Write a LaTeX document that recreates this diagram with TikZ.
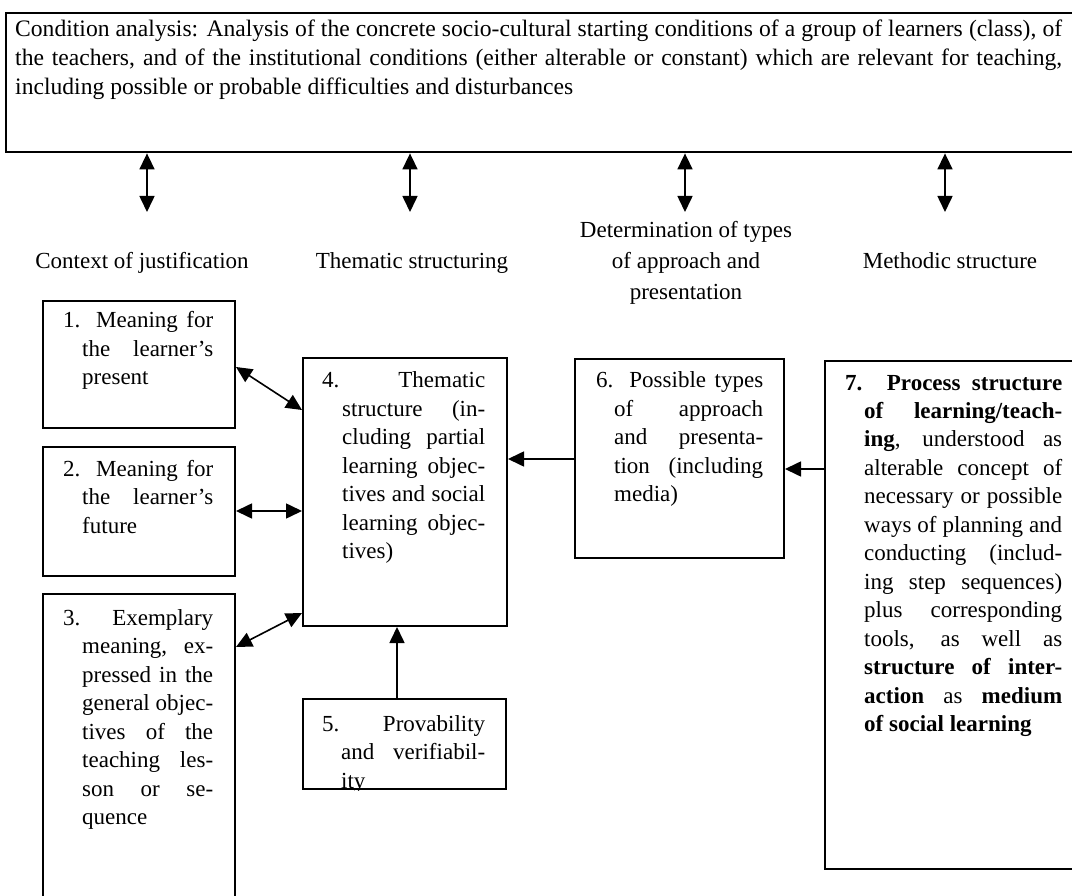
\documentclass[tikz,border=0pt]{standalone}
\usepackage{fontspec}
\setmainfont{Liberation Serif}
\usetikzlibrary{arrows.meta,calc}

% a justified line of fixed width
\newcommand\jst[2]{\makebox[#1][s]{#2}}

\tikzset{
  boxframe/.style={draw, line width=2pt, inner sep=0pt, anchor=north west},
  para/.style={inner sep=0pt, anchor=base west, font=\fontsize{23}{28.5}\selectfont},
  lab/.style={inner sep=0pt, anchor=base, font=\fontsize{23}{31}\selectfont},
  dbl/.style={line width=1.6pt, {Triangle[length=16pt,width=15pt]}-{Triangle[length=16pt,width=15pt]}},
  sgl/.style={line width=1.6pt, -{Triangle[length=16pt,width=15pt]}},
}

\begin{document}
\begin{tikzpicture}[x=1pt, y=-1pt]
\useasboundingbox (0,0) rectangle (1072,896);
\clip (0,0) rectangle (1072,896);

% condition analysis frame
\node[boxframe, line width=2.4pt, minimum width=1085pt, minimum height=139pt] (top) at (5,12) {};
\node[para, font=\fontsize{23.6}{29}\selectfont] (toptext) at (15,37) {\parbox[t]{1047pt}{%
\jst{1047pt}{Condition analysis: Analysis of the concrete socio-cultural starting conditions of a group of learners (class), of}\\
\jst{1047pt}{the teachers, and of the institutional conditions (either alterable or constant) which are relevant for teaching,}\\
including possible or probable difficulties and disturbances}};

% column headings and their links to the frame
\coordinate (v1) at (147,212);
\coordinate (v2) at (410,212);
\coordinate (v3) at (685,212);
\coordinate (v4) at (945,212);
\draw[dbl] (top.south -| v1) -- (v1);
\draw[dbl] (top.south -| v2) -- (v2);
\draw[dbl] (top.south -| v3) -- (v3);
\draw[dbl] (top.south -| v4) -- (v4);

\node[lab] (l1) at (142,269) {Context of justification};
\node[lab] (l2) at (412,269) {Thematic structuring};
\node[lab] (l3) at (686,238) {\parbox[t]{300pt}{\centering Determination of types\\ of approach and\\ presentation}};
\node[lab] (l4) at (950,269) {Methodic structure};

% boxes
\node[boxframe, minimum width=192pt, minimum height=127pt] (b1) at (42,300) {};
\node[boxframe, minimum width=192pt, minimum height=129pt] (b2) at (42,446) {};
\node[boxframe, minimum width=192pt, minimum height=330pt] (b3) at (42,593) {};
\node[boxframe, minimum width=204pt, minimum height=268pt] (b4) at (302,357) {};
\node[boxframe, minimum width=203pt, minimum height=90pt] (b5) at (302,698) {};
\node[boxframe, minimum width=209pt, minimum height=199pt] (b6) at (574,358) {};
\node[boxframe, minimum width=266pt, minimum height=508pt] (b7) at (824,360) {};

% box texts
\node[para] (t1) at (63,328) {\parbox[t]{150pt}{%
\jst{150pt}{1. Meaning for}\\
\hspace*{19pt}\jst{131pt}{the learner’s}\\
\hspace*{19pt}present}};

\node[para] (t2) at (63,476) {\parbox[t]{150pt}{%
\jst{150pt}{2. Meaning for}\\
\hspace*{19pt}\jst{131pt}{the learner’s}\\
\hspace*{19pt}future}};

\node[para] (t3) at (63,625) {\parbox[t]{150pt}{%
\jst{150pt}{3. Exemplary}\\
\hspace*{19pt}\jst{131pt}{meaning, ex-}\\
\hspace*{19pt}\jst{131pt}{pressed in the}\\
\hspace*{19pt}\jst{131pt}{general objec-}\\
\hspace*{19pt}\jst{131pt}{tives of the}\\
\hspace*{19pt}\jst{131pt}{teaching les-}\\
\hspace*{19pt}\jst{131pt}{son or se-}\\
\hspace*{19pt}quence}};

\node[para] (t4) at (322,388) {\parbox[t]{163pt}{%
\jst{163pt}{4. Thematic}\\
\hspace*{20pt}\jst{143pt}{structure (in-}\\
\hspace*{20pt}\jst{143pt}{cluding partial}\\
\hspace*{20pt}\jst{143pt}{learning objec-}\\
\hspace*{20pt}\jst{143pt}{tives and social}\\
\hspace*{20pt}\jst{143pt}{learning objec-}\\
\hspace*{20pt}tives)}};

\begin{scope}
\clip (b5.north west) rectangle (b5.south east);
\node[para] (t5) at (322,731) {\parbox[t]{163pt}{%
\jst{163pt}{5. Provability}\\
\hspace*{19pt}\jst{144pt}{and verifiabil-}\\
\hspace*{19pt}ity}};
\end{scope}

\node[para] (t6) at (596,388) {\parbox[t]{167pt}{%
\jst{167pt}{6. Possible types}\\
\hspace*{18pt}\jst{149pt}{of approach}\\
\hspace*{18pt}\jst{149pt}{and presenta-}\\
\hspace*{18pt}\jst{149pt}{tion (including}\\
\hspace*{18pt}media)}};

\node[para] (t7) at (845,390) {\parbox[t]{217pt}{%
\jst{217pt}{\textbf{7. Process structure}}\\
\hspace*{19pt}\jst{198pt}{\textbf{of learning/teach-}}\\
\hspace*{19pt}\jst{198pt}{\textbf{ing}, understood as}\\
\hspace*{19pt}\jst{198pt}{alterable concept of}\\
\hspace*{19pt}\jst{198pt}{necessary or possible}\\
\hspace*{19pt}\jst{198pt}{ways of planning and}\\
\hspace*{19pt}\jst{198pt}{conducting (includ-}\\
\hspace*{19pt}\jst{198pt}{ing step sequences)}\\
\hspace*{19pt}\jst{198pt}{plus corresponding}\\
\hspace*{19pt}\jst{198pt}{tools, as well as}\\
\hspace*{19pt}\jst{198pt}{\textbf{structure of inter-}}\\
\hspace*{19pt}\jst{198pt}{\textbf{action} as \textbf{medium}}\\
\hspace*{19pt}\textbf{of social learning}}};

% connectors
\draw[dbl] ([yshift=-67pt]b1.north east) -- ([yshift=-53pt]b4.north west);
\draw[dbl] ([yshift=-65pt]b2.north east) -- ([yshift=-154pt]b4.north west);
\draw[dbl] ([yshift=-54pt]b3.north east) -- ([yshift=-256pt]b4.north west);
\draw[sgl] ([xshift=-7.5pt]b5.north) -- ([xshift=-8pt]b4.south);
\draw[sgl] ([yshift=-101pt]b6.north west) -- ([yshift=-102pt]b4.north east);
\draw[sgl] ([yshift=-109pt]b7.north west) -- ([yshift=-111pt]b6.north east);
\end{tikzpicture}
\end{document}
